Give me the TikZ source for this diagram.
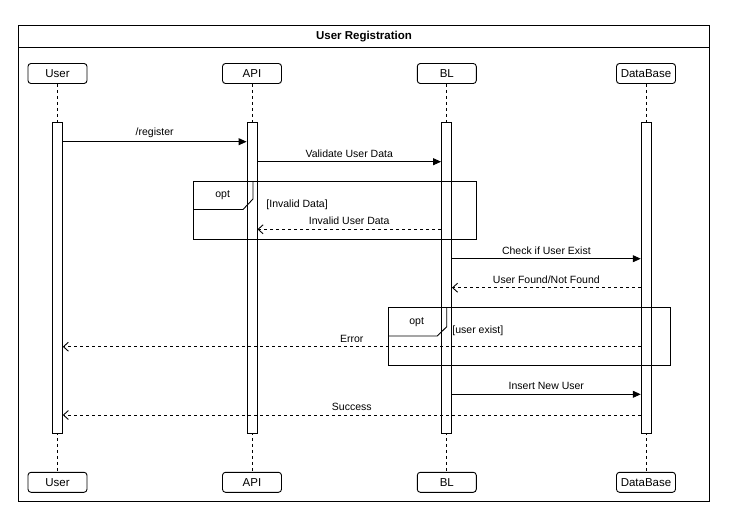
\documentclass[tikz,border=0pt]{standalone}
\usepackage{fontspec}
\setmainfont{Liberation Sans}
\usetikzlibrary{arrows.meta}
\begin{document}
\begin{tikzpicture}[x=1pt, y=-1pt, line width=0.9pt,
  head/.style={draw, rounded corners=3pt, minimum width=59pt, minimum height=20pt, inner sep=0pt, font=\fontsize{11.5}{13}\selectfont},
  bar/.style={draw, fill=white, minimum width=10pt, minimum height=311pt, inner sep=0pt},
  life/.style={dash pattern=on 3pt off 3pt},
  msg/.style={inner sep=0pt, font=\fontsize{10.5}{12}\selectfont},
  call/.style={-{Triangle[length=8pt,width=7pt]}},
  back/.style={life, -{Straight Barb[length=5pt,width=9pt]}},
  tab/.style={sharp corners, line join=miter}]

\useasboundingbox (0,0) rectangle (732,520);

\draw (18,25) rectangle (709,501);
\draw (18,47) -- (709,47);
\node[font=\bfseries\fontsize{11.5}{13}\selectfont] (title) at (364,36.5) {User Registration};

\node[head] (u) at (57.5,73.5) {User};
\node[head] (api) at (252,73.5) {API};
\node[head] (bl) at (446.8,73.5) {BL};
\node[head] (db) at (646,73.5) {DataBase};

\node[head] (ub) at (57.5,482.3) {User};
\node[head] (apib) at (252,482.3) {API};
\node[head] (blb) at (446.8,482.3) {BL};
\node[head] (dbb) at (646,482.3) {DataBase};

\draw[life] (u)--(ub);
\draw[life] (api)--(apib);
\draw[life] (bl)--(blb);
\draw[life] (db)--(dbb);

\node[bar] (ubar) at (57.3,277.8) {};
\node[bar] (apibar) at (252,277.8) {};
\node[bar] (blbar) at (446.5,277.8) {};
\node[bar] (dbbar) at (646.2,277.8) {};

\coordinate (y1) at (0,141.7);
\coordinate (y2) at (0,161.7);
\coordinate (y3) at (0,229.3);
\coordinate (y4) at (0,258.7);
\coordinate (y5) at (0,287.7);
\coordinate (y6) at (0,346.7);
\coordinate (y7) at (0,394.3);
\coordinate (y8) at (0,415);

\draw[call] (ubar.east |- y1) -- node[msg, above=4pt] (l1) {/register} (apibar.west |- y1);
\draw[call] (apibar.east |- y2) -- node[msg, above=4pt] (l2) {Validate User Data} (blbar.west |- y2);
\draw[back] (blbar.west |- y3) -- node[msg, above=4pt] (l3) {Invalid User Data} (apibar.east |- y3);
\draw[call] (blbar.east |- y4) -- node[msg, above=4pt] (l4) {Check if User Exist} (dbbar.west |- y4);
\draw[back] (dbbar.west |- y5) -- node[msg, above=4pt] (l5) {User Found/Not Found} (blbar.east |- y5);
\draw[back] (dbbar.west |- y6) -- node[msg, above=4pt] (l6) {Error} (ubar.east |- y6);
\draw[call] (blbar.east |- y7) -- node[msg, above=4pt] (l7) {Insert New User} (dbbar.west |- y7);
\draw[back] (dbbar.west |- y8) -- node[msg, above=4pt] (l8) {Success} (ubar.east |- y8);

\draw (193,181) rectangle (476,239);
\draw[tab] (193,209.5) -- (243,209.5) -- (253,199) -- (253,181);
\node[msg] (opt1) at (222.7,195) {opt};
\node[msg, anchor=west] (g1) at (266,204.5) {[Invalid Data]};

\draw (388,307.3) rectangle (670.7,365.3);
\draw[tab] (388,336) -- (437.3,336) -- (446.7,326.7) -- (446.7,307.3);
\node[msg] (opt2) at (416.7,321.7) {opt};
\node[msg, anchor=west] (g2) at (452,331) {[user exist]};
\end{tikzpicture}
\end{document}
